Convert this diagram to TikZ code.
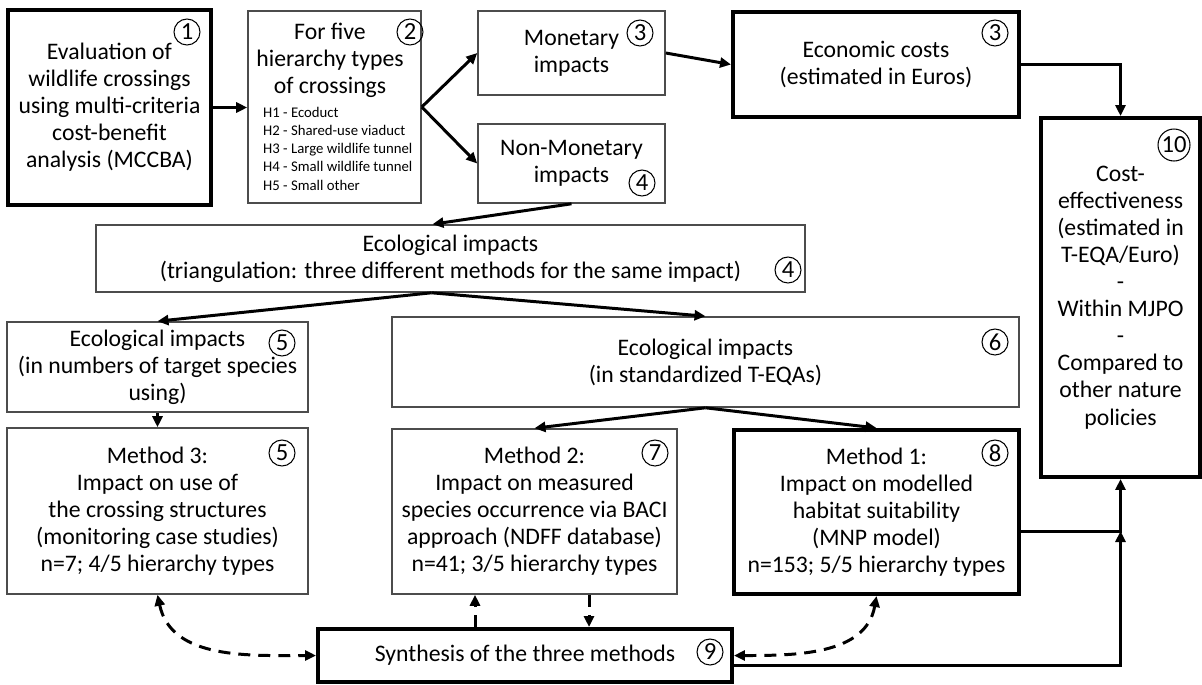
\documentclass[tikz,border=0pt]{standalone}
\usepackage{fontspec}
\setmainfont{Carlito}
\usetikzlibrary{arrows.meta, calc}

\begin{document}
\begin{tikzpicture}[x=0.02cm,y=-0.02cm,
    font=\fontsize{13.5}{15.4}\selectfont,
    >={Triangle[length=0.22cm,width=0.2cm]},
    thinbox/.style={draw=black!70, line width=0.9pt, inner sep=0pt, align=center},
    thickbox/.style={draw=black, line width=2.3pt, inner sep=0pt, align=center},
    numc/.style={circle, draw, line width=0.6pt, inner sep=0pt, minimum size=0.52cm, font=\fontsize{14}{14}\selectfont},
    arr/.style={line width=1.7pt},
    darr/.style={line width=1.7pt, dash pattern=on 0.24cm off 0.16cm}]
  \useasboundingbox (0,0) rectangle (1202,684);

  % top row
  \node[thickbox, minimum width=4.06cm, minimum height=3.9cm] (eval) at (109.5,107.5)
    {Evaluation of\\wildlife crossings\\using multi-criteria\\cost-benefit\\analysis (MCCBA)};
  \node[numc] (n1) at (187,32) {1};

  \node[thinbox, minimum width=3.46cm, minimum height=3.84cm] (types) at (334.5,107) {};
  \node[align=center] (typestitle) at (330,60) {For five\\hierarchy types\\of crossings};
  \node[align=left, anchor=west, font=\fontsize{8.4}{10.4}\selectfont] (typeslist) at (257,148.5)
    {H1 - Ecoduct\\H2 - Shared-use viaduct\\H3 - Large wildlife tunnel\\H4 - Small wildlife tunnel\\H5 - Small other};
  \node[numc] (n2) at (410,32) {2};

  \node[thinbox, minimum width=3.74cm, minimum height=1.68cm] (monet) at (571.5,53) {Monetary\\impacts};
  \node[numc] (n3a) at (640,33) {3};
  \node[thinbox, minimum width=3.74cm, minimum height=1.58cm] (nonmon) at (571.5,163.5) {Non-Monetary\\impacts};
  \node[numc] (n4a) at (642,183) {4};

  \node[thickbox, minimum width=5.72cm, minimum height=2.1cm] (costs) at (876,64.5) {Economic costs\\(estimated in Euros)};
  \node[numc] (n3b) at (995,33) {3};

  \node[thickbox, minimum width=3.18cm, minimum height=7.18cm] (ce) at (1120.5,297.5)
    {Cost-\\effectiveness\\(estimated in\\T-EQA/Euro)\\-\\Within MJPO\\-\\Compared to\\other nature\\policies};
  \node[numc, minimum size=0.64cm] (n10) at (1174,145) {10};

  % ecological impacts
  \node[thinbox, minimum width=14.18cm, minimum height=1.34cm] (ecotri) at (450.5,258.5)
    {Ecological impacts\\(triangulation: three different methods for the same impact)};
  \node[numc] (n4b) at (788,270) {4};

  \node[thinbox, minimum width=6.02cm, minimum height=1.8cm] (ecouse) at (157.5,367)
    {Ecological impacts\\(in numbers of target species\\using)};
  \node[numc] (n5a) at (282,343) {5};
  \node[thinbox, minimum width=12.54cm, minimum height=1.8cm] (ecoteqa) at (705.5,362)
    {Ecological impacts\\(in standardized T-EQAs)};
  \node[numc] (n6) at (995,342) {6};

  % methods
  \node[thinbox, minimum width=6.02cm, minimum height=3.32cm] (meth3) at (157.5,511)
    {Method 3:\\Impact on use of\\the crossing structures\\(monitoring case studies)\\n=7; 4/5 hierarchy types};
  \node[numc] (n5b) at (282,453) {5};
  \node[thinbox, minimum width=5.7cm, minimum height=3.3cm] (meth2) at (534.5,511.5)
    {Method 2:\\Impact on measured\\species occurrence via BACI\\approach (NDFF database)\\n=41; 3/5 hierarchy types};
  \node[numc] (n7) at (655,453) {7};
  \node[thickbox, minimum width=5.7cm, minimum height=3.28cm] (meth1) at (876.5,512)
    {Method 1:\\Impact on modelled\\habitat suitability\\(MNP model)\\n=153; 5/5 hierarchy types};
  \node[numc] (n8) at (995,453) {8};

  \node[thickbox, minimum width=8.28cm, minimum height=1.06cm] (synth) at (525,655.5) {Synthesis of the three methods};
  \node[numc] (n9) at (710,652) {9};

  % arrows
  \draw[arr,->] (eval.east) -- (eval.east -| types.west);
  \draw[arr,->] (types.east) -- (monet.west);
  \draw[arr,->] (types.east) -- (nonmon.west);
  \draw[arr,->] (monet.east) -- (costs.west);
  \draw[arr,->] (costs.east) -| (ce.north);
  \draw[arr,->] (nonmon.south) -- ($(ecotri.north)+(-18,0)$);
  \draw[arr,->] ($(ecotri.south)+(-19,0)$) -- (ecouse.north);
  \draw[arr,->] ($(ecotri.south)+(-19,0)$) -- (ecoteqa.north);
  \draw[arr,->] (ecouse.south) -- (meth3.north);
  \draw[arr,->] (ecoteqa.south) -- (meth2.north);
  \draw[arr,->] (ecoteqa.south) -- (meth1.north);

  % synthesis loop
  \draw[darr,<->] (meth3.south) to[out=-78,in=180] (synth.west);
  \draw[darr,<->] (synth.east) to[out=0,in=-100] (meth1.south);
  \draw[darr,->] (synth.north -| 475,0) -- (meth2.south -| 475,0);
  \draw[darr,->] (meth2.south -| 589,0) -- (synth.north -| 589,0);

  \path (meth1.east) ++(0,19) coordinate (m1out);
  \coordinate (join) at (m1out -| ce.south);
  \draw[arr,->] ($(synth.east)+(0,10)$) -| (join);
  \draw[arr,->] (m1out) -- (join) -- (ce.south);
\end{tikzpicture}
\end{document}
